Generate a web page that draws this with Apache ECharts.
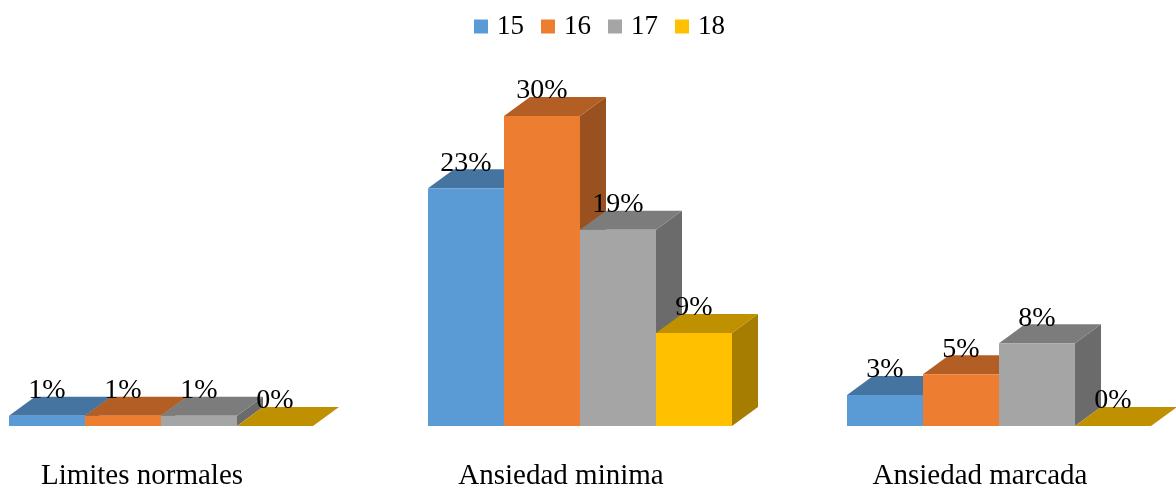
<!DOCTYPE html>
<html><head><meta charset="utf-8">
<style>html,body{margin:0;padding:0;background:#fff}#c{width:1176px;height:487px}</style>
<script src="https://cdn.jsdelivr.net/npm/echarts@6/dist/echarts.min.js"></script>
</head><body><div id="c"></div>
<script>
var categories = ['Limites normales', 'Ansiedad minima', 'Ansiedad marcada'];
var seriesNames = ['15', '16', '17', '18'];
var values15 = [1, 23, 3];
var values16 = [1, 30, 5];
var values17 = [1, 19, 8];
var values18 = [0, 9, 0];
var frontColors = ['#5B9BD5', '#ED7D31', '#A5A5A5', '#FFC000'];
var topColors = ['#44749F', '#B25E24', '#7C7C7C', '#BF9000'];
var sideColors = ['#3B658B', '#9A5120', '#6B6B6B', '#A67D00'];
var allValues = [values15, values16, values17, values18];
var FONT = '"Liberation Serif", serif';
var DX = 26, DY = 19;

var chart = echarts.init(document.getElementById('c'), null, {renderer: 'canvas'});

function makeRender(si) {
  return function (params, api) {
    var cat = api.value(0), val = api.value(1);
    var base = api.coord([cat, 0]);
    var top = api.coord([cat, val]);
    var band = api.size([1, 0])[0];
    var w = band * 304 / 419 / 4;
    var x0 = base[0] - 2 * w + si * w;
    var x1 = x0 + w;
    var yb = base[1], yt = top[1];
    return {
      type: 'group',
      children: [
        {type: 'polygon', shape: {points: [[x1, yb], [x1 + DX, yb - DY], [x1 + DX, yt - DY], [x1, yt]]},
          style: {fill: sideColors[si]}, silent: true},
        {type: 'polygon', shape: {points: [[x0, yt], [x0 + DX, yt - DY], [x1 + DX, yt - DY], [x1, yt]]},
          style: {fill: topColors[si]}},
        {type: 'rect', shape: {x: x0, y: yt, width: w, height: yb - yt},
          style: {fill: frontColors[si]}},
        {type: 'text', z2: 100, style: {
          x: (x0 + x1) / 2, y: yt - 25, text: val + '%',
          font: '28px ' + FONT, fill: '#000', align: 'center', verticalAlign: 'middle'}}
      ]
    };
  };
}

chart.setOption({
  animation: false,
  color: frontColors,
  legend: {
    top: 8, left: 469, icon: 'rect', itemWidth: 14, itemHeight: 14, itemGap: 17,
    data: seriesNames,
    textStyle: {fontFamily: FONT, fontSize: 27, color: '#000', padding: [0, 0, 0, 4]}
  },
  grid: {left: -48.5, width: 1257, top: 116, height: 310, outerBoundsMode: 'none'},
  xAxis: {
    type: 'category', data: categories,
    axisLine: {show: false}, axisTick: {show: false},
    axisLabel: {interval: 0, margin: 36, fontFamily: FONT, fontSize: 29, color: '#000', padding: [0, 38, 0, 0]}
  },
  yAxis: {type: 'value', min: 0, max: 30, show: false, splitLine: {show: false}},
  series: seriesNames.map(function (n, si) {
    return {
      name: n, type: 'custom', renderItem: makeRender(si),
      encode: {x: 0, y: 1},
      itemStyle: {color: frontColors[si]},
      data: allValues[si].map(function (v, i) { return [i, v]; })
    };
  })
});
</script></body></html>
